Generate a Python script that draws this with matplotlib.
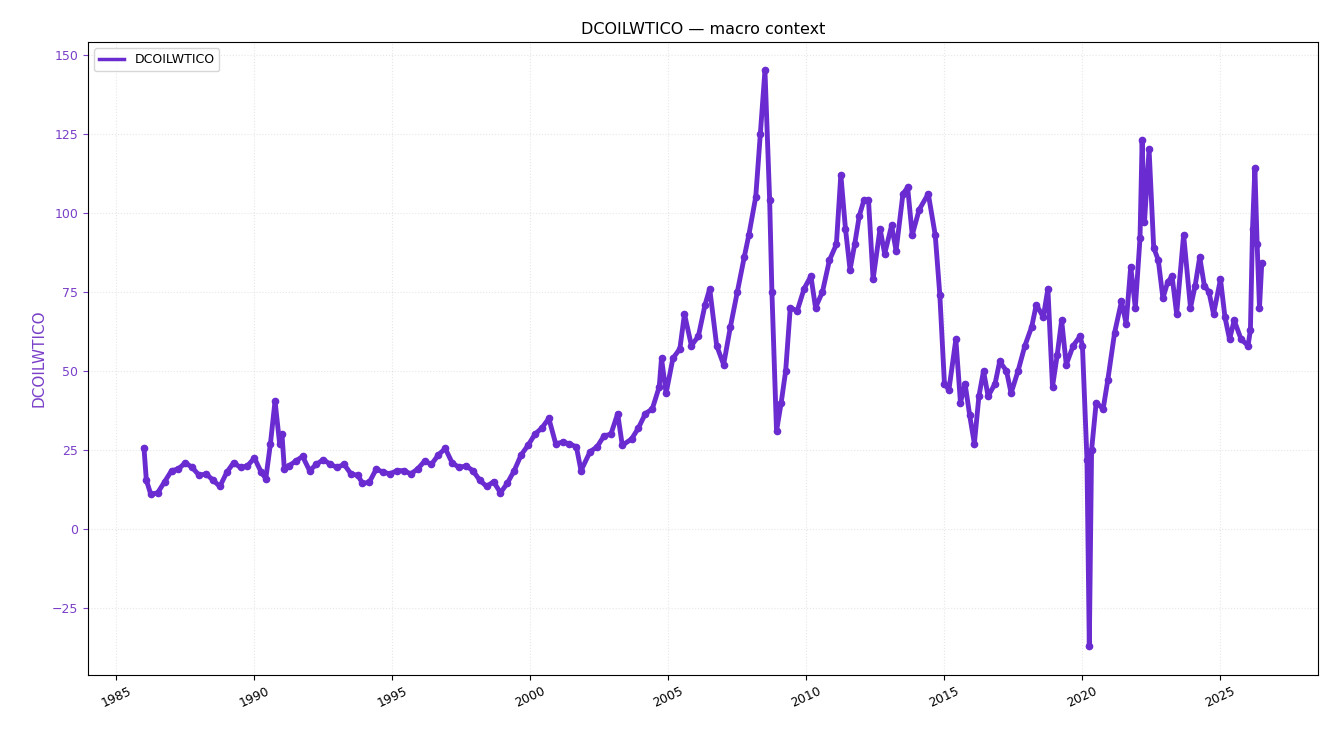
import matplotlib.pyplot as plt
from matplotlib.lines import Line2D
import pandas as pd

# approximate WTI spot price readings (month, USD/bbl)
obs = [
    ("1986-01", 25.6), ("1986-02", 15.5), ("1986-04", 11.0), ("1986-07", 11.5), ("1986-10", 15.0),
    ("1987-01", 18.5), ("1987-04", 19.0), ("1987-07", 21.0), ("1987-10", 19.5),
    ("1988-01", 17.0), ("1988-04", 17.5), ("1988-07", 15.5), ("1988-10", 13.5),
    ("1989-01", 18.0), ("1989-04", 21.0), ("1989-07", 19.5), ("1989-10", 20.0),
    ("1990-01", 22.5), ("1990-04", 18.0), ("1990-06", 16.0), ("1990-08", 27.0), ("1990-10", 40.5),
    ("1990-12", 27.0), ("1991-01", 30.0), ("1991-02", 19.0), ("1991-04", 20.0), ("1991-07", 21.5),
    ("1991-10", 23.0), ("1992-01", 18.5), ("1992-04", 20.5), ("1992-07", 22.0), ("1992-10", 20.5),
    ("1993-01", 19.5), ("1993-04", 20.5), ("1993-07", 17.5), ("1993-10", 17.0), ("1993-12", 14.5),
    ("1994-03", 14.8), ("1994-06", 19.0), ("1994-09", 18.0), ("1994-12", 17.5),
    ("1995-03", 18.5), ("1995-06", 18.5), ("1995-09", 17.5), ("1995-12", 19.0),
    ("1996-03", 21.5), ("1996-06", 20.5), ("1996-09", 23.5), ("1996-12", 25.5),
    ("1997-03", 21.0), ("1997-06", 19.5), ("1997-09", 20.0), ("1997-12", 18.5),
    ("1998-03", 15.5), ("1998-06", 13.5), ("1998-09", 15.0), ("1998-12", 11.5),
    ("1999-03", 14.5), ("1999-06", 18.5), ("1999-09", 23.5), ("1999-12", 26.5),
    ("2000-03", 30.0), ("2000-06", 32.0), ("2000-09", 35.0), ("2000-12", 27.0),
    ("2001-03", 27.5), ("2001-06", 27.0), ("2001-09", 26.0), ("2001-11", 18.5),
    ("2002-03", 24.5), ("2002-06", 26.0), ("2002-09", 29.5), ("2002-12", 30.0),
    ("2003-03", 36.5), ("2003-05", 26.5), ("2003-09", 28.5), ("2003-12", 32.0),
    ("2004-03", 36.5), ("2004-06", 38.0), ("2004-09", 45.0), ("2004-10", 54.0), ("2004-12", 43.0),
    ("2005-03", 54.0), ("2005-06", 57.0), ("2005-08", 68.0), ("2005-11", 58.0),
    ("2006-02", 61.0), ("2006-05", 71.0), ("2006-07", 76.0), ("2006-10", 58.0),
    ("2007-01", 52.0), ("2007-04", 64.0), ("2007-07", 75.0), ("2007-10", 86.0), ("2007-12", 93.0),
    ("2008-03", 105.0), ("2008-05", 125.0), ("2008-07", 145.0), ("2008-09", 104.0), ("2008-10", 75.0),
    ("2008-12", 31.0), ("2009-02", 40.0), ("2009-04", 50.0), ("2009-06", 70.0), ("2009-09", 69.0),
    ("2009-12", 76.0), ("2010-03", 80.0), ("2010-05", 70.0), ("2010-08", 75.0), ("2010-11", 85.0),
    ("2011-02", 90.0), ("2011-04", 112.0), ("2011-06", 95.0), ("2011-08", 82.0), ("2011-10", 90.0),
    ("2011-12", 99.0), ("2012-02", 104.0), ("2012-04", 104.0), ("2012-06", 79.0), ("2012-09", 95.0),
    ("2012-11", 87.0), ("2013-02", 96.0), ("2013-04", 88.0), ("2013-07", 106.0), ("2013-09", 108.0),
    ("2013-11", 93.0), ("2014-02", 101.0), ("2014-06", 106.0), ("2014-09", 93.0), ("2014-11", 74.0),
    ("2015-01", 46.0), ("2015-03", 44.0), ("2015-06", 60.0), ("2015-08", 40.0), ("2015-10", 46.0),
    ("2015-12", 36.0), ("2016-02", 27.0), ("2016-04", 42.0), ("2016-06", 50.0), ("2016-08", 42.0),
    ("2016-11", 46.0), ("2017-01", 53.0), ("2017-04", 50.0), ("2017-06", 43.0), ("2017-09", 50.0),
    ("2017-12", 58.0), ("2018-03", 64.0), ("2018-05", 71.0), ("2018-08", 67.0), ("2018-10", 76.0),
    ("2018-12", 45.0), ("2019-02", 55.0), ("2019-04", 66.0), ("2019-06", 52.0), ("2019-09", 58.0),
    ("2019-12", 61.0), ("2020-01", 58.0), ("2020-03", 22.0), ("2020-04", -37.0), ("2020-05", 25.0),
    ("2020-07", 40.0), ("2020-10", 38.0), ("2020-12", 47.0), ("2021-03", 62.0), ("2021-06", 72.0),
    ("2021-08", 65.0), ("2021-10", 83.0), ("2021-12", 70.0), ("2022-02", 92.0), ("2022-03", 123.0),
    ("2022-04", 97.0), ("2022-06", 120.0), ("2022-08", 89.0), ("2022-10", 85.0), ("2022-12", 73.0),
    ("2023-02", 78.0), ("2023-04", 80.0), ("2023-06", 68.0), ("2023-09", 93.0), ("2023-12", 70.0),
    ("2024-02", 77.0), ("2024-04", 86.0), ("2024-06", 77.0), ("2024-08", 75.0), ("2024-10", 68.0),
    ("2025-01", 79.0), ("2025-03", 67.0), ("2025-05", 60.0), ("2025-07", 66.0), ("2025-10", 60.0),
    ("2026-01", 58.0), ("2026-02", 63.0), ("2026-03", 95.0), ("2026-04", 114.0), ("2026-05", 90.0),
    ("2026-06", 70.0), ("2026-07", 84.0),
]
dates = pd.to_datetime([d for d, _ in obs])
prices = [p for _, p in obs]

color = "#6a2bd0"
fig, ax = plt.subplots(figsize=(13.35, 7.35), dpi=100)
fig.subplots_adjust(left=0.066, right=0.987, top=0.943, bottom=0.082)

ax.plot(dates, prices, color=color, lw=3.5, marker="o", ms=4.5)
ax.set_title("DCOILWTICO — macro context", fontsize=11.5)
ax.set_ylabel("DCOILWTICO", color="#7a3fc8", fontsize=11)
ax.tick_params(axis="y", colors="#7a3fc8", labelsize=9)
ax.tick_params(axis="x", labelsize=9, labelrotation=25)
ax.set_ylim(-46, 154)
ax.grid(True, ls=":", alpha=0.3)
ax.legend([Line2D([], [], color=color, lw=2.5)], ["DCOILWTICO"], loc="upper left", fontsize=9)

fig.savefig("out.png")
